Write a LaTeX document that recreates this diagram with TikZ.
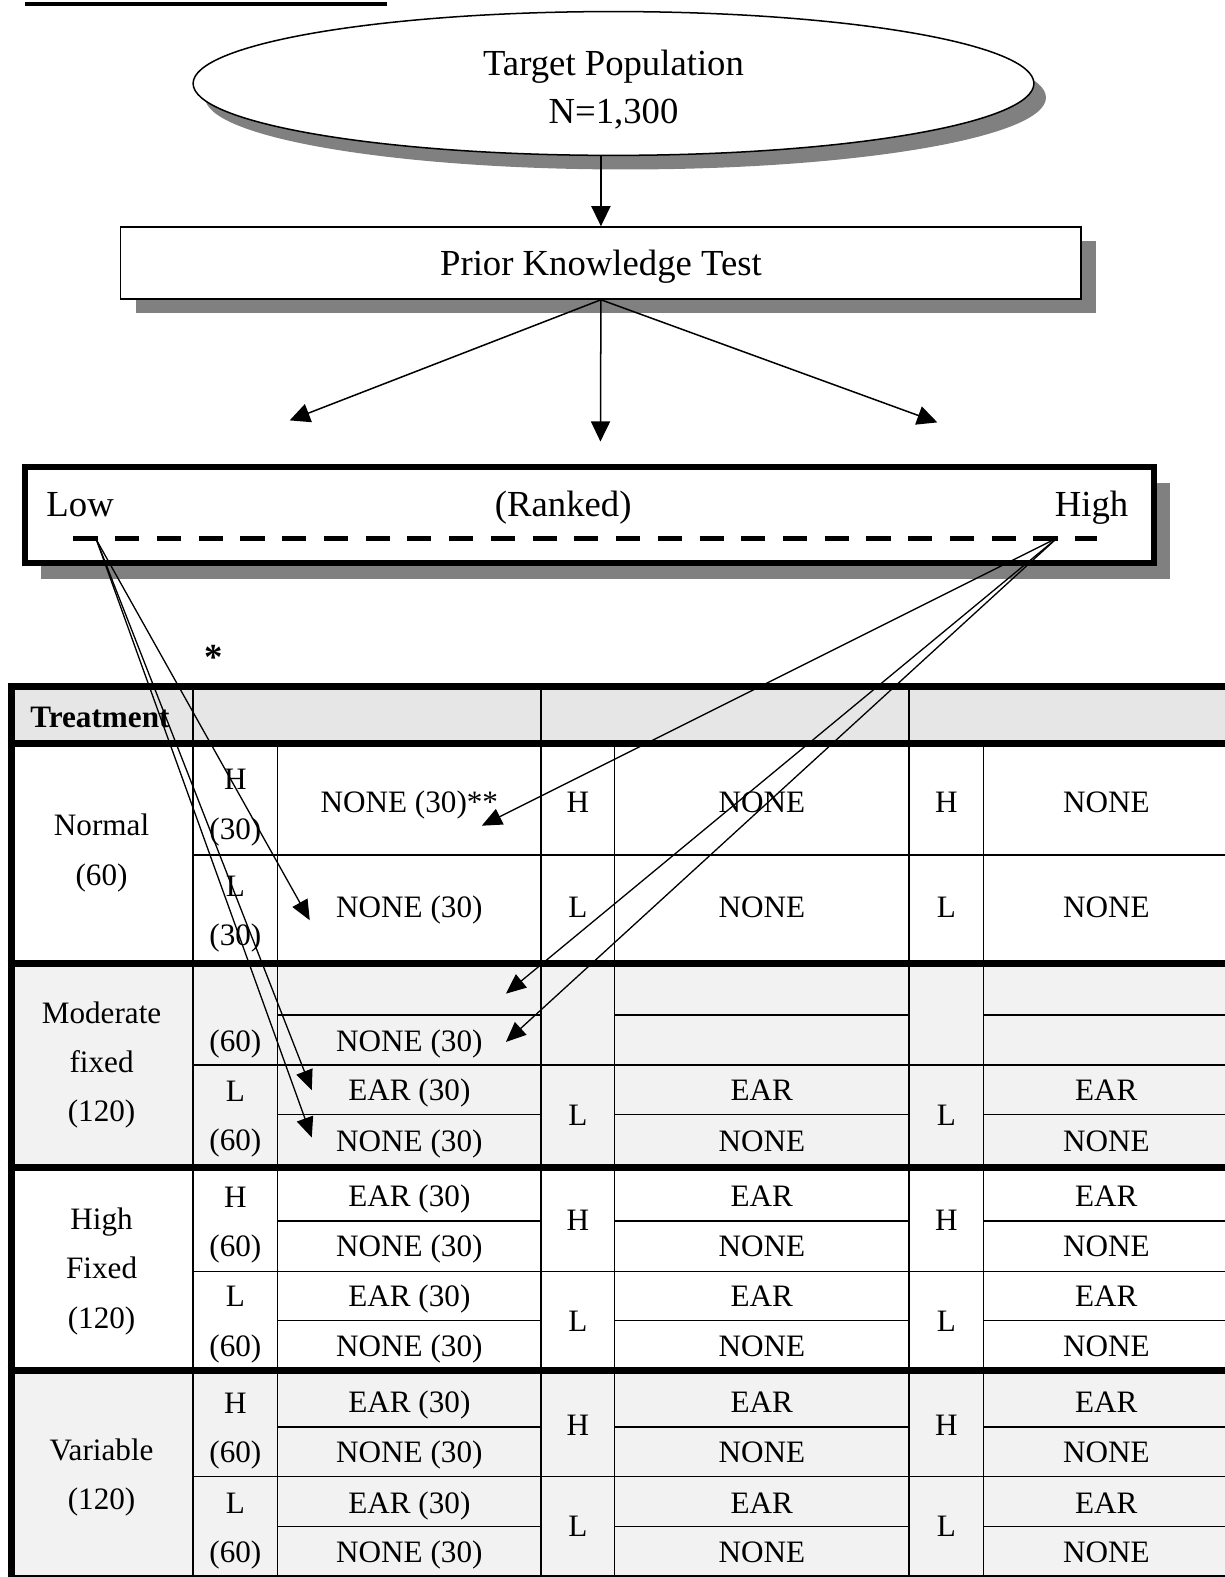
\documentclass[tikz,border=0pt]{standalone}
\usepackage{fontspec}
\setmainfont{Liberation Serif}
\usetikzlibrary{shapes.geometric, arrows.meta, positioning, shadows, calc}
\definecolor{shadowgray}{HTML}{808080}
\definecolor{headgray}{HTML}{E6E6E6}
\definecolor{rowgray}{HTML}{F2F2F2}
\newcommand{\bigfont}{\fontsize{36.5}{47}\selectfont}
\newcommand{\cellfont}{\fontsize{31}{49}\selectfont}
\tikzset{
  popnode/.style={
    ellipse, draw, line width=1.5pt, fill=white,
    minimum width=836pt, minimum height=143pt,
    align=center, font=\bigfont, text height=84pt, text depth=5pt,
    drop shadow={shadow xshift=12pt, shadow yshift=-14pt,
                 fill=shadowgray, opacity=1}
  },
  testbox/.style={
    rectangle, draw, line width=1.5pt, fill=white,
    minimum width=955pt, minimum height=71.6pt,
    font=\bigfont, text height=32pt, text depth=8pt,
    drop shadow={shadow xshift=15pt, shadow yshift=-14pt,
                 fill=shadowgray, opacity=1}
  },
  rankbox/.style={
    rectangle, draw, line width=6pt, fill=white,
    minimum width=1122pt, minimum height=96pt,
    drop shadow={shadow xshift=16pt, shadow yshift=-16pt,
                 fill=shadowgray, opacity=1}
  },
  bigtext/.style={font=\bigfont, inner sep=0pt},
  celltext/.style={font=\cellfont, inner sep=0pt,
                   text height=22pt, text depth=7pt},
  multitext/.style={font=\cellfont, inner sep=0pt, align=center},
  grid/.style={line width=1.5pt},
  rule/.style={line width=7pt},
  flow/.style={-{Triangle[length=20pt, width=19pt]}, line width=1.5pt},
  thinflow/.style={-{Triangle[length=20pt, width=17pt]}, line width=1.3pt}
}
\begin{document}
\begin{tikzpicture}[x=1pt, y=-1pt]
    \useasboundingbox (0,0) rectangle (1218,1568);

    % Caption rule (cut off)
    \draw[line width=4pt] (25,4) -- (385,4);

    % Population and test
    \node[popnode] (pop) at (610,83) {Target Population\\N=1,300};
    \node[testbox] (pkt) at (597.5,261.5) {Prior Knowledge Test};
    \draw[flow] (pop.south -| pkt.north) -- (pkt.north);

    \coordinate (splitL) at (288,418);
    \coordinate (splitM) at (597,439);
    \coordinate (splitR) at (932,420);
    \foreach \t in {splitL, splitM, splitR}
      \draw[flow] (pkt.south) -- (\t);

    % Ranked scale
    \node[rankbox] (rank) at (586,512) {};
    \node[bigtext, anchor=base west] (low) at (46,514) {Low};
    \node[bigtext, anchor=base] (ranked) at (560,514) {(Ranked)};
    \node[bigtext, anchor=base east] (high) at (1122,514) {High};
    \draw[line width=5pt, dash pattern=on 24pt off 17.5pt]
      (73,535) -- (1091,535);
    \coordinate (lowpt) at (96,537);
    \coordinate (highpt) at (1051,535);

    \node[celltext, font=\bigfont\bfseries] (star) at (212,658) {*};

    % Table background
    \fill[headgray] (11,683) rectangle (1240,739);
    \fill[rowgray] (11,958) rectangle (1240,1161);
    \fill[rowgray] (11,1363) rectangle (1240,1568);

    % Table grid
    \draw[grid] (192,683) -- (192,739) (538,683) -- (538,739)
                (904,683) -- (904,739);
    \foreach \x in {192,276,538,611,904,978}
      \draw[grid] (\x,739) -- (\x,1568);
    \draw[grid] (192,850) -- (1240,850);
    \foreach \y in {1059,1264,1468}
      \draw[grid] (192,\y) -- (1240,\y);
    \foreach \y in {1009,1108,1214,1313,1419,1518}
      \draw[grid] (276,\y) -- (538,\y) (611,\y) -- (904,\y)
                  (978,\y) -- (1240,\y);
    \foreach \y in {683,739,958,1161,1363}
      \draw[rule] (7.5,\y) -- (1240,\y);
    \draw[rule] (11,679.5) -- (11,1568);
    \draw[line width=3pt] (7.5,1567) -- (1240,1567);

    % Header
    \node[celltext, font=\cellfont\bfseries, anchor=west] (treat)
      at (30,715.5) {Treatment};

    % Normal
    \node[multitext] (normal) at (101,848) {Normal\\(60)};
    \node[multitext] (nh) at (234,803) {H\\(30)};
    \node[multitext] (nl) at (234,909) {L\\(30)};
    \node[celltext] (nhnone) at (407,800) {NONE (30)**};
    \node[celltext] (nlnone) at (407,905) {NONE (30)};
    \node[celltext] (nhb) at (574.5,800) {H};
    \node[celltext] (nlb) at (574.5,905) {L};
    \node[celltext] (nhc) at (757.5,800) {NONE};
    \node[celltext] (nlc) at (757.5,905) {NONE};
    \node[celltext] (nhd) at (941,800) {H};
    \node[celltext] (nld) at (941,905) {L};
    \node[celltext] (nhe) at (1100,800) {NONE};
    \node[celltext] (nle) at (1100,905) {NONE};

    % Moderate fixed
    \node[multitext] (moder) at (101,1059) {Moderate\\fixed\\(120)};
    \node[celltext] (mh) at (234,1038) {(60)};
    \node[multitext] (ml) at (234,1113) {L\\(60)};
    \node[celltext] (mnone) at (407,1038) {NONE (30)};
    \node[celltext] (mlear) at (407,1087) {EAR (30)};
    \node[celltext] (mlnone) at (407,1137) {NONE (30)};
    \node[celltext] (mlb) at (574.5,1112) {L};
    \node[celltext] (mlc) at (757.5,1087) {EAR};
    \node[celltext] (mld) at (757.5,1137) {NONE};
    \node[celltext] (mle) at (941,1112) {L};
    \node[celltext] (mlf) at (1100,1087) {EAR};
    \node[celltext] (mlg) at (1100,1137) {NONE};

    % High fixed and variable
    \node[multitext] (highf) at (101,1264) {High\\Fixed\\(120)};
    \node[multitext] (var) at (101,1469) {Variable\\(120)};
    \foreach \y/\lvl/\n in {1218/H/1, 1317/L/2, 1423/H/3, 1522/L/4}
      \node[multitext] (lev-a\n) at (234,\y) {\lvl\\(60)};
    \foreach \y/\lvl/\n in {1216/H/1, 1316/L/2, 1420/H/3, 1520/L/4} {
      \node[celltext] (lev-b\n) at (574.5,\y) {\lvl};
      \node[celltext] (lev-c\n) at (941,\y) {\lvl};
    }
    \foreach \y/\kind/\n in {1192/EAR/1, 1242/NONE/2, 1292/EAR/3,
        1341/NONE/4, 1397/EAR/5, 1447/NONE/6, 1497/EAR/7, 1546/NONE/8} {
      \node[celltext] (grp-a\n) at (407,\y) {\kind\ (30)};
      \node[celltext] (grp-b\n) at (757.5,\y) {\kind};
      \node[celltext] (grp-c\n) at (1100,\y) {\kind};
    }

    % Assignment arrows
    \coordinate (tNL) at (308,915);
    \coordinate (tME) at (310,1084);
    \coordinate (tMN) at (310,1131);
    \coordinate (tNH) at (479,821);
    \coordinate (tMB) at (503,988);
    \coordinate (tMU) at (503,1036);
    \foreach \t in {tNL, tME, tMN}
      \draw[thinflow] (lowpt) -- (\t);
    \foreach \t in {tNH, tMB, tMU}
      \draw[thinflow] (highpt) -- (\t);
\end{tikzpicture}
\end{document}
